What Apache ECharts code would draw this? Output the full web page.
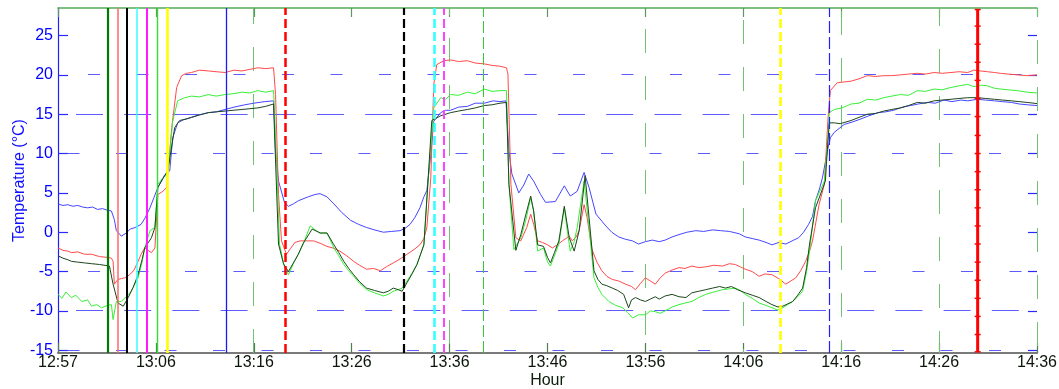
<!DOCTYPE html>
<html>
<head>
<meta charset="utf-8">
<script src="https://cdn.jsdelivr.net/npm/echarts@6/dist/echarts.min.js"></script>
<style>
  html, body { margin: 0; padding: 0; background: #ffffff; }
  #chart { width: 1059px; height: 389px; }
</style>
</head>
<body>
<div id="chart"></div>
<script>
// ---- time axis: minutes after 12:57, labelled ticks every 9.9 minutes ----
const xTickLabels = ['12:57', '13:06', '13:16', '13:26', '13:36', '13:46', '13:56', '14:06', '14:16', '14:26', '14:36'];
const xTickStep = 9.9;
const xRange = [0, 99];

// ---- temperature axis ----
const yTicks = [-15, -10, -5, 0, 5, 10, 15, 20, 25];
const yRange = [-15.35, 28.5];

// ---- sensor traces: [minutes after 12:57, temperature °C] ----
const blueTrace = [
  [0,3.6],[0.5,3.4],[1,3.5],[1.5,3.3],[2,3.4],[2.5,3.2],[3,3.1],[3.5,3.2],[4,2.9],[4.5,3.0],[5,2.8],[5.4,2.7],[5.7,1.6],[5.9,0.2],[6.2,-0.2],[6.4,-0.5],[6.9,-0.1],[7.3,0.4],[7.8,0.6],[8.4,1.0],[8.8,1.8],[9.3,3.1],[9.7,4.4],[10.1,5.7],[10.5,6.6],[10.8,7.3],[11.3,7.8],[11.6,12.0],[12.1,13.9],[12.7,14.3],[13.5,14.6],[14.2,14.9],[15.2,15.2],[16,15.3],[16.9,15.6],[17.8,15.9],[18.9,16.2],[19.8,16.4],[20.9,16.6],[21.8,16.7],
  [22.0,10.3],[22.3,6.5],[22.9,3.8],[23.3,3.3],[23.8,3.6],[24.3,4.0],[25.3,4.5],[26.0,4.8],[26.5,4.9],[27.2,4.5],[27.9,3.6],[28.7,2.5],[29.6,1.5],[30.4,1.0],[31.2,0.6],[32.0,0.3],[32.9,0.0],[33.7,0.1],[34.6,0.2],[35.1,0.5],[35.6,1.0],[36.1,1.9],[36.6,3.1],[37.0,4.5],[37.3,5.3],[37.7,9.9],[38.0,14.1],[38.7,15.2],[39.2,15.5],[39.7,15.5],[40.5,15.9],[41.4,16.0],[42.2,16.4],[43.1,16.4],[44.0,16.7],[44.7,16.6],[45.3,16.7],
  [45.6,10.3],[45.9,7.4],[46.6,5.0],[47.1,6.0],[47.6,7.4],[48.1,6.5],[48.8,4.8],[49.3,3.8],[50.3,3.9],[51.2,5.9],[51.8,4.6],[52.5,5.2],[53.2,7.6],[53.7,5.7],[54.4,2.3],[55.4,0.8],[56.0,0.0],[56.7,-0.6],[57.4,-0.9],[58.1,-1.1],[58.7,-1.5],[59.4,-1.2],[60.1,-1.0],[60.8,-1.2],[61.4,-1.0],[62.1,-0.6],[62.8,-0.3],[63.6,0.0],[64.5,0.2],[65.3,0.1],[66.2,0.3],[67.0,0.2],[67.9,0.1],[68.9,-0.2],[69.5,-0.6],[70.2,-0.8],[70.9,-1.0],[71.6,-1.3],[72.2,-1.6],[72.9,-1.3],[73.6,-1.5],[74.4,-1.0],[74.9,-0.7],[75.4,0.0],[75.9,1.0],[76.3,2.0],[76.6,4.0],[77.0,5.5],[77.3,6.9],
  [77.8,10.3],[78.1,12.0],[78.5,12.7],[79.5,13.7],[80.3,14.0],[81.2,14.4],[82.0,14.8],[82.9,15.2],[83.7,15.3],[84.5,15.5],[85.4,15.9],[86.2,16.1],[87.0,16.3],[87.9,16.5],[88.7,16.4],[89.6,16.8],[90.4,16.6],[91.3,16.8],[92.0,16.7],[93.0,16.9],[93.8,16.8],[94.7,16.7],[95.5,16.6],[96.4,16.5],[97.2,16.3],[98.0,16.2],[99,16.1]
];

const redTrace = [
  [0,-2.0],[0.5,-2.3],[1,-2.4],[1.35,-2.6],[2,-2.5],[2.7,-2.8],[3.4,-2.8],[4.2,-3.1],[5.06,-3.2],[5.4,-3.3],[5.57,-3.7],[5.7,-6.6],[6.07,-6.0],[6.4,-5.9],[6.75,-5.8],[7.25,-5.4],[7.7,-4.8],[8.1,-3.7],[8.4,-2.8],[8.77,-2.0],[9.1,-2.3],[9.45,-2.6],[9.8,-2.0],[10.1,4.8],[10.6,5.2],[11.0,5.7],[11.5,13.3],[12.0,18.4],[12.5,19.9],[13.0,20.2],[13.5,20.3],[14.3,20.6],[15.2,20.5],[16.0,20.4],[16.9,20.3],[17.8,20.6],[18.6,20.5],[19.4,20.7],[20.2,20.9],[21.0,20.8],[21.8,20.9],
  [22.0,17.5],[22.3,4.8],[22.6,-1.1],[23.1,-2.8],[23.5,-2.1],[23.95,-1.3],[24.5,-1.1],[25.3,-1.1],[25.85,-1.1],[26.5,-1.4],[27.2,-1.8],[27.8,-2.0],[28.5,-2.4],[29.2,-3.0],[29.9,-3.7],[30.5,-4.2],[31.2,-4.7],[31.9,-4.6],[32.6,-4.9],[33.2,-4.4],[33.9,-3.9],[34.6,-3.4],[35.3,-2.8],[36.0,-2.2],[36.6,-1.6],[37.0,-0.8],[37.3,0.6],[37.7,6.9],[38.0,18.8],[38.3,21.3],[39.0,21.8],[39.7,21.9],[40.5,21.7],[41.4,21.8],[42.2,21.5],[43.1,21.4],[43.9,21.2],[44.7,21.1],[45.35,20.9],
  [45.5,20.1],[45.8,6.1],[46.3,-0.7],[46.8,-1.1],[47.4,0.6],[47.8,2.3],[48.1,1.0],[48.5,-1.1],[49.0,-1.3],[49.5,-1.6],[50.0,-2.0],[50.5,-1.6],[51.0,-1.1],[51.7,-0.5],[52.0,-1.1],[52.4,-0.6],[52.7,0.2],[53.2,3.5],[53.5,1.9],[54.0,-2.2],[54.5,-3.8],[55.0,-4.9],[55.5,-5.6],[56.05,-6.0],[56.7,-6.2],[57.4,-6.6],[58.0,-6.9],[58.4,-7.3],[58.9,-6.5],[59.4,-5.8],[59.9,-6.2],[60.4,-6.6],[60.9,-5.8],[61.4,-5.2],[62.1,-4.8],[62.8,-4.5],[63.4,-4.6],[64.1,-4.3],[64.8,-4.5],[65.5,-4.4],[66.3,-4.2],[67.2,-4.3],[67.9,-4.0],[68.5,-4.1],[69.0,-4.4],[69.5,-4.7],[70.2,-5.0],[70.9,-5.6],[71.5,-5.3],[72.2,-5.4],[72.9,-5.9],[73.6,-6.6],[74.1,-6.2],[74.6,-5.8],[75.1,-4.9],[75.6,-3.7],[76.0,-2.4],[76.3,-1.1],[76.96,3.5],[77.5,6.1],
  [77.87,14.6],[78.1,18.0],[78.8,19.0],[79.5,19.1],[80.2,19.2],[81.0,19.5],[81.85,19.9],[82.7,19.8],[83.5,19.9],[84.3,19.9],[85.2,20.0],[86.0,20.1],[86.9,20.2],[87.7,20.1],[88.6,20.3],[89.4,20.2],[90.3,20.3],[91.1,20.4],[92.0,20.3],[92.6,20.6],[93.3,20.5],[94.0,20.4],[94.7,20.3],[95.3,20.2],[96.1,20.1],[97.0,20.0],[98.0,19.9],[99,20.0]
];

const greenTrace = [
  [0,-7.9],[0.4,-8.4],[0.8,-7.6],[1.35,-8.3],[1.8,-8.0],[2.4,-8.8],[3.0,-8.6],[3.4,-9.4],[3.9,-9.2],[4.4,-9.6],[5.0,-9.3],[5.4,-9.2],[5.57,-11.1],[5.9,-8.8],[6.4,-8.8],[6.9,-8.2],[7.4,-7.5],[8.1,-5.8],[8.5,-3.8],[8.77,-2.0],[9.3,0.2],[9.8,0.6],[10.1,6.1],[10.6,6.9],[11.1,7.4],[11.6,14.1],[12.1,16.7],[12.8,17.1],[13.5,17.3],[14.3,17.2],[15.2,17.5],[16.0,17.3],[16.9,17.5],[17.7,17.6],[18.6,17.8],[19.4,17.7],[20.2,18.0],[21.0,17.8],[21.8,18.0],
  [22.1,9.1],[22.4,-1.5],[22.9,-4.5],[23.3,-5.4],[23.8,-4.0],[24.3,-2.8],[24.8,-1.5],[25.5,0.8],[26.0,0.3],[26.5,-0.1],[27.2,-0.1],[27.9,-2.0],[28.4,-3.0],[28.9,-4.1],[29.4,-4.9],[29.9,-5.6],[30.5,-6.5],[31.2,-7.3],[32.0,-7.7],[32.9,-8.1],[33.4,-7.9],[33.9,-7.5],[34.4,-7.3],[34.8,-7.1],[35.3,-6.2],[35.8,-5.2],[36.3,-4.1],[37.0,-1.6],[37.5,7.8],[38.0,15.8],[38.7,17.1],[39.2,16.9],[39.7,17.5],[40.5,17.4],[41.4,17.8],[42.2,17.6],[43.1,18.2],[43.9,17.9],[44.7,18.0],[45.35,18.0],
  [45.6,6.1],[46.1,-2.2],[46.8,-0.7],[47.3,1.5],[47.8,4.4],[48.1,2.7],[48.5,-2.4],[49.1,-2.0],[49.5,-3.8],[49.8,-4.3],[50.2,-3.0],[50.65,-1.5],[51.2,3.1],[51.5,0.2],[51.8,-2.4],[52.2,-1.2],[52.5,0.6],[53.2,6.5],[53.7,0.6],[54.2,-5.8],[54.6,-7.0],[55.0,-7.9],[55.7,-8.8],[56.4,-9.3],[57.1,-9.6],[57.6,-10.2],[58.1,-10.9],[58.7,-10.5],[59.4,-10.5],[59.9,-10.0],[60.4,-10.1],[60.9,-10.3],[61.4,-10.0],[62.1,-9.5],[62.8,-9.2],[63.4,-9.0],[64.1,-8.8],[64.8,-8.3],[65.5,-7.9],[66.3,-7.6],[67.2,-7.3],[67.9,-7.2],[68.5,-7.1],[69.0,-7.4],[69.5,-7.9],[70.2,-8.4],[70.9,-9.0],[71.6,-9.3],[72.2,-9.6],[72.8,-9.9],[73.3,-9.6],[73.8,-9.2],[74.3,-8.8],[74.8,-8.2],[75.3,-7.5],[75.7,-5.0],[76.0,-2.4],[76.6,4.0],[77.5,6.5],
  [77.8,11.0],[78.0,15.2],[78.5,15.6],[79.3,15.8],[80.2,16.3],[81.0,16.4],[81.85,16.9],[82.7,16.8],[83.5,17.1],[84.3,17.3],[85.2,17.5],[86.0,17.4],[86.9,18.0],[87.7,17.9],[88.6,18.2],[89.4,18.1],[90.3,18.4],[91.1,18.6],[92.0,18.8],[92.6,18.5],[93.3,18.7],[94.0,18.6],[94.7,18.3],[95.3,18.2],[96.1,18.1],[97.0,18.0],[98.0,17.8],[99,17.7]
];

const darkTrace = [
  [0,-3.0],[0.5,-3.3],[1,-3.5],[1.35,-3.7],[2,-3.8],[2.7,-3.9],[3.4,-4.0],[4.2,-4.1],[5.2,-4.3],[5.57,-6.6],[6.07,-9.0],[6.6,-9.4],[7.1,-8.3],[7.6,-7.0],[8.1,-5.4],[8.5,-3.5],[8.77,-2.0],[9.45,-0.7],[9.8,0.6],[10.1,5.7],[10.6,6.8],[11.1,7.8],[11.8,13.3],[12.3,14.2],[13.0,14.4],[13.5,14.6],[14.3,14.9],[15.2,15.2],[16.0,15.3],[16.9,15.4],[17.7,15.5],[18.6,15.6],[19.4,15.7],[20.2,15.8],[21.0,16.0],[21.8,16.3],
  [21.9,12.5],[22.3,-1.5],[22.8,-4.0],[23.3,-5.0],[23.8,-3.9],[24.3,-2.8],[24.8,-1.4],[25.7,0.4],[26.2,0.1],[26.5,-0.1],[27.2,-0.1],[27.9,-1.6],[28.4,-2.6],[28.9,-3.7],[29.4,-4.6],[29.9,-5.4],[30.5,-6.3],[31.2,-7.1],[32.0,-7.4],[32.9,-7.7],[33.4,-7.5],[33.9,-7.1],[34.4,-7.3],[34.8,-7.5],[35.3,-6.4],[35.8,-5.3],[36.3,-4.1],[37.0,-1.6],[37.5,8.2],[37.8,14.2],[38.7,14.8],[39.7,15.2],[40.5,15.4],[41.4,15.6],[42.2,15.8],[43.1,16.1],[43.9,16.2],[44.7,16.4],[45.35,16.5],
  [45.6,6.1],[46.3,-2.3],[46.8,-0.3],[47.3,2.2],[47.8,4.6],[48.1,2.7],[48.5,-1.6],[49.1,-1.8],[49.5,-3.2],[49.8,-3.9],[50.2,-2.6],[50.65,-1.1],[51.2,3.3],[51.7,-0.7],[52.2,-2.4],[52.7,0.2],[53.3,7.2],[53.7,1.9],[54.2,-4.9],[54.6,-6.0],[55.0,-6.6],[55.5,-6.8],[56.05,-7.1],[56.6,-7.4],[57.2,-7.9],[57.7,-9.6],[58.0,-8.6],[58.4,-8.3],[58.9,-8.6],[59.4,-8.8],[59.9,-8.5],[60.4,-8.2],[60.8,-8.5],[61.4,-8.1],[62.1,-7.9],[62.8,-8.2],[63.5,-8.3],[64.1,-7.7],[64.8,-7.5],[65.5,-7.3],[66.2,-7.1],[66.9,-6.9],[67.5,-7.1],[68.1,-6.9],[68.7,-7.3],[69.5,-7.7],[70.2,-8.0],[70.9,-8.3],[71.6,-8.8],[72.2,-9.2],[72.8,-9.5],[73.3,-9.4],[73.8,-9.1],[74.3,-8.8],[74.8,-8.0],[75.3,-7.1],[75.7,-4.5],[76.0,-1.5],[76.6,3.1],[77.6,6.5],
  [77.8,10.5],[78.0,13.9],[78.5,13.9],[79.1,13.8],[80.2,14.2],[81.0,14.6],[81.85,15.0],[82.7,15.1],[83.5,15.4],[84.3,15.6],[85.2,15.8],[86.0,16.1],[86.9,16.5],[87.7,16.4],[88.6,16.7],[89.4,16.8],[90.3,16.9],[91.1,17.0],[92.0,17.1],[93.0,17.1],[93.8,17.0],[94.7,16.9],[95.5,16.8],[96.4,16.7],[97.2,16.6],[98.0,16.5],[99,16.35]
];

// ---- event markers (minutes after 12:57) ----
const eventMinutes = [5, 6, 7, 8, 9, 10, 11, 17, 23, 35, 38, 39, 43, 73, 78];
const eventLooks = [
  { color: '#007a00', width: 2.2, type: 'solid' },
  { color: '#ff6a6a', width: 1.5, type: 'solid' },
  { color: '#000000', width: 2.0, type: 'solid' },
  { color: '#38ffff', width: 1.5, type: 'solid' },
  { color: '#ff1aff', width: 2.0, type: 'solid' },
  { color: '#33dd33', width: 1.4, type: 'solid' },
  { color: '#ffff00', width: 2.6, type: 'solid' },
  { color: '#1a1aff', width: 1.3, type: 'solid' },
  { color: '#ff0000', width: 2.5, type: [9, 4] },
  { color: '#000000', width: 2.2, type: [9, 4] },
  { color: '#33ffff', width: 2.6, type: [9, 4] },
  { color: '#ff44ff', width: 2.0, type: [9, 4] },
  { color: '#33cc33', width: 1.0, type: [12, 4] },
  { color: '#ffff00', width: 2.6, type: [9, 4] },
  { color: '#2222ff', width: 1.2, type: [12, 4] }
];
// closing marker line drawn with its point markers
const markerMinute = 93;
const markerLevels = [28.3, 26.2, 23.9, 21.6, 19.3, 17.0, 14.7, 12.3, 10.0, 7.7, 5.4, 3.1, 0.8, -1.5, -3.8, -6.1, -8.4, -10.7, -13.0, -15.2];

// ---- dotted grid rows / columns that show on the plot ----
const gridRows = [20, 15, 10, -5, -10, -15];
const gridColumnTicks = [2, 4, 6, 7, 8, 9, 10];

const xTicks = xTickLabels.map((_, i) => +(i * xTickStep).toFixed(2));

const rowLook = {
  '20': { seg: 12, period: 48.5, phase: 30 },
  '15': { seg: 27, period: 48.2, phase: 18 },
  '10': { seg: 12, period: 48.5, phase: 9.5 },
  '-5': { seg: 12, period: 48.5, phase: 30 },
  '-10': { seg: 27, period: 48.2, phase: 18 },
  '-15': { seg: 12, period: 48.5, phase: 9.5 }
};

// grid rows and columns snapped to whole pixels so the 1px dashes stay crisp
function renderGridRow(params, api) {
  const v = api.value(1);
  const a = api.coord([xRange[0], v]);
  const b = api.coord([xRange[1], v]);
  const y = Math.floor(a[1]) + 0.5;
  const l = rowLook[String(v)];
  return {
    type: 'line', silent: true,
    shape: { x1: a[0], y1: y, x2: b[0], y2: y },
    style: { stroke: '#5c5cff', lineWidth: 1, lineDash: [l.seg, l.period - l.seg], lineDashOffset: l.period - l.phase }
  };
}
function renderGridColumn(params, api) {
  const t = api.value(0);
  const a = api.coord([t, yRange[0]]);
  const b = api.coord([t, yRange[1]]);
  const x = Math.floor(a[0]) + 0.5;
  return {
    type: 'line', silent: true,
    shape: { x1: x, y1: b[1], x2: x, y2: a[1] },
    style: { stroke: '#72c072', lineWidth: 1, lineDash: [24, 23], lineDashOffset: 8 + params.dataIndex * 9 }
  };
}

const eventMarks = eventMinutes.map((t, i) => ({
  xAxis: t,
  lineStyle: { color: eventLooks[i].color, width: eventLooks[i].width, type: eventLooks[i].type }
}));

const FONT = 'Liberation Sans, Arial, sans-serif';

function trace(name, data, color, z) {
  return {
    name, type: 'line', data, z,
    showSymbol: false, symbol: 'none',
    lineStyle: { color, width: 1 },
    itemStyle: { color },
    emphasis: { disabled: true },
    silent: true, animation: false
  };
}

const chart = echarts.init(document.getElementById('chart'), null, { renderer: 'canvas' });
chart.setOption({
  backgroundColor: '#ffffff',
  animation: false,
  grid: { left: 58, right: 22, top: 8, bottom: 36, containLabel: false, outerBoundsMode: 'none' },
  xAxis: [
    {
      type: 'value', position: 'bottom', min: xRange[0], max: xRange[1],
      axisLine: { show: true, onZero: false, lineStyle: { color: '#7a7a7a', width: 2 } },
      axisTick: { show: true, inside: true, length: 10, customValues: xTicks, lineStyle: { color: '#4f7f4f', width: 1.2 } },
      axisLabel: {
        show: true, customValues: xTicks, margin: 2,
        color: '#0b160b', fontSize: 16, fontFamily: FONT,
        formatter: v => xTickLabels[Math.round(v / xTickStep)]
      },
      splitLine: { show: false },
      name: 'Hour', nameLocation: 'middle', nameGap: 20, nameMoveOverlap: false,
      nameTextStyle: { color: '#0b1f0b', fontSize: 16, fontFamily: FONT }
    },
    {
      type: 'value', position: 'top', min: xRange[0], max: xRange[1],
      axisLine: { show: true, onZero: false, lineStyle: { color: '#55aa55', width: 1.5 } },
      axisTick: { show: true, inside: true, length: 9, customValues: xTicks, lineStyle: { color: '#5f975f', width: 1.2 } },
      axisLabel: { show: false },
      splitLine: { show: false }
    }
  ],
  yAxis: [
    {
      type: 'value', position: 'left', min: yRange[0], max: yRange[1],
      axisLine: { show: true, onZero: false, lineStyle: { color: '#1f1fff', width: 1.2 } },
      axisTick: { show: true, inside: true, length: 10, customValues: yTicks, lineStyle: { color: '#2a2aff', width: 1.2 } },
      axisLabel: {
        show: true, customValues: yTicks, margin: 5,
        color: '#0000ff', fontSize: 16, fontFamily: FONT
      },
      splitLine: { show: false },
      name: 'Temperature (°C)', nameLocation: 'middle', nameGap: 30, nameMoveOverlap: false,
      nameTextStyle: { color: '#1010ff', fontSize: 16, fontFamily: FONT }
    },
    {
      type: 'value', position: 'right', min: yRange[0], max: yRange[1],
      axisLine: { show: false, onZero: false },
      axisTick: { show: true, inside: true, length: 9, customValues: yTicks, lineStyle: { color: '#2a2aff', width: 1.2 } },
      axisLabel: { show: false },
      splitLine: { show: false }
    }
  ],
  series: [
    {
      name: 'grid rows', type: 'custom', z: 1, silent: true, animation: false,
      data: gridRows.map(v => [xRange[0], v]),
      renderItem: renderGridRow
    },
    {
      name: 'grid columns', type: 'custom', z: 1, silent: true, animation: false,
      data: gridColumnTicks.map(k => [xTicks[k], 0]),
      renderItem: renderGridColumn
    },
    trace('blue', blueTrace, '#4646ff', 3),
    trace('red', redTrace, '#ff4a4a', 3),
    trace('green', greenTrace, '#38f038', 3),
    trace('dark', darkTrace, '#1d461d', 4),
    {
      name: 'events', type: 'line', data: [], z: 6, silent: true, animation: false,
      markLine: {
        silent: true, animation: false, symbol: ['none', 'none'],
        label: { show: false }, emphasis: { disabled: true },
        data: eventMarks
      }
    },
    {
      name: 'closing', type: 'line', z: 7, silent: true, animation: false,
      data: markerLevels.map(v => [markerMinute, v]),
      showSymbol: true, symbol: 'rect', symbolSize: [6, 1.5],
      lineStyle: { color: '#ff0000', width: 3 },
      itemStyle: { color: '#ff0000' },
      emphasis: { disabled: true }
    }
  ]
});
</script>
</body>
</html>
